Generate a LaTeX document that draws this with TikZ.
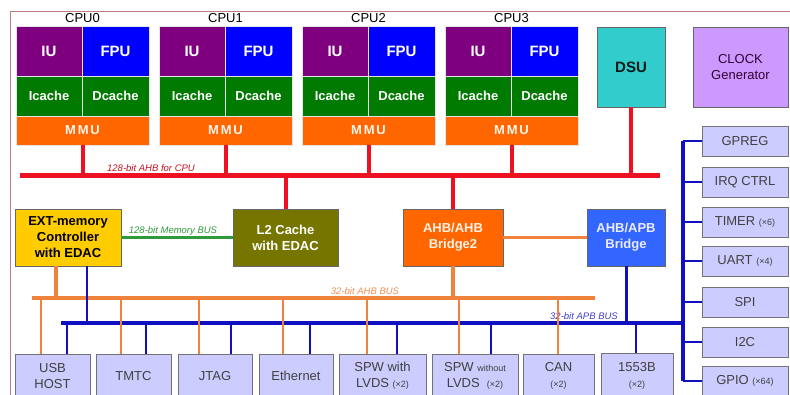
\documentclass[tikz,border=0pt]{standalone}
\usepackage{fontspec}
\setmainfont{Liberation Sans}
\definecolor{iuc}{HTML}{7F007F}
\definecolor{fpuc}{HTML}{0000FF}
\definecolor{cachec}{HTML}{007A00}
\definecolor{mmuc}{HTML}{FF6600}
\definecolor{dsuc}{HTML}{33CCCC}
\definecolor{clkc}{HTML}{CC99FF}
\definecolor{prc}{HTML}{CCCCFF}
\definecolor{extc}{HTML}{FFCC00}
\definecolor{l2c}{HTML}{757500}
\definecolor{apbc}{HTML}{3366FF}
\definecolor{redbus}{HTML}{EE1122}
\definecolor{orbus}{HTML}{F0823C}
\definecolor{blbus}{HTML}{1010C0}
\definecolor{grbus}{HTML}{2E9A3A}
\definecolor{bordc}{HTML}{B88080}
\begin{document}
\begin{tikzpicture}[x=1pt,y=-1pt,
  cell/.style={draw=white!80!gray, line width=0.6pt, inner sep=0pt, text=white},
  iubox/.style={cell, fill=iuc, minimum width=66pt, minimum height=50pt, font=\bfseries\fontsize{15}{15}\selectfont},
  fpubox/.style={cell, fill=fpuc, minimum width=67pt, minimum height=50pt, font=\bfseries\fontsize{15}{15}\selectfont},
  cachebox/.style={cell, fill=cachec, minimum height=40pt, font=\bfseries\fontsize{13}{13}\selectfont},
  mmubox/.style={cell, fill=mmuc, minimum width=133pt, minimum height=29pt, text=white!92!orange, font=\bfseries\fontsize{13}{13}\selectfont},
  blk/.style={draw=black!60, line width=0.8pt, inner sep=1pt, align=center, font=\bfseries\fontsize{13}{16}\selectfont},
  prph/.style={draw=black!55, line width=0.8pt, fill=prc, inner sep=1pt, align=center, text=black!75, font=\fontsize{13}{16}\selectfont},
  redl/.style={draw=redbus, line width=5pt},
  reds/.style={draw=redbus, line width=4pt},
  orl/.style={draw=orbus, line width=3.5pt},
  ors/.style={draw=orbus, line width=2pt},
  bll/.style={draw=blbus, line width=3.3pt},
  bls/.style={draw=blbus, line width=2pt},
  buslbl/.style={font=\itshape\fontsize{9.5}{9.5}\selectfont, inner sep=0pt}
]
\useasboundingbox (0,0) rectangle (790,394);
% frame
\draw[bordc, line width=1pt] (10,396) -- (10,11) -- (792,11);

% CPUs
\foreach \i in {0,1,2,3} {
  \pgfmathsetmacro\xo{16+143*\i}
  \node[font=\fontsize{13}{13}\selectfont] (cpulbl\i) at (\xo+66.5,18) {CPU\i};
  \node[iubox] (iu\i) at (\xo+33,51) {IU};
  \node[fpubox] (fpu\i) at (\xo+99.5,51) {FPU};
  \node[cachebox, minimum width=66pt] (ic\i) at (\xo+33,96) {Icache};
  \node[cachebox, minimum width=67pt] (dc\i) at (\xo+99.5,96) {Dcache};
  \node[mmubox] (mmu\i) at (\xo+66.5,130.5) {M\hspace{1.8pt}M\hspace{1.8pt}U};
}
\node[blk, fill=dsuc, minimum width=68pt, minimum height=80pt, text=black!80!teal, font=\bfseries\fontsize{15}{15}\selectfont] (dsu) at (631,67) {DSU};
\node[blk, fill=clkc, minimum width=95pt, minimum height=80pt, text=black!60!violet, font=\fontsize{13}{16}\selectfont] (clk) at (740.5,67) {CLOCK\\Generator};

% CPU AHB bus
\coordinate (cbL) at (20,175);
\coordinate (cbR) at (660,175);
\draw[redl] (cbL) -- (cbR);
\node[buslbl, text=redbus!85!black] (cblbl) at (151,168) {128-bit AHB for CPU};
\foreach \i in {0,1,2,3} {
  \draw[reds] (mmu\i.south) -- (mmu\i.south |- cbL);
}
\draw[reds] (dsu.south) -- (dsu.south |- cbL);

% middle blocks
\node[blk, fill=extc, minimum width=106pt, minimum height=57pt, text=black] (ext) at (68,237.5) {EXT-memory\\Controller\\with EDAC};
\node[blk, fill=l2c, minimum width=105pt, minimum height=57pt, text=white] (l2) at (285.5,237.5) {L2 Cache\\with EDAC};
\node[blk, fill=mmuc, minimum width=100pt, minimum height=57pt, text=white!90!orange] (ahb2) at (453,237.5) {AHB/AHB\\Bridge2};
\node[blk, fill=apbc, minimum width=78pt, minimum height=57pt, text=white!92!blue] (apb) at (626,237.5) {AHB/APB\\Bridge};

\draw[reds] (l2.north) -- (l2.north |- cbL);
\draw[reds] (ahb2.north) -- (ahb2.north |- cbL);
\draw[draw=grbus, line width=3pt] (ext.east) -- (l2.west);
\node[buslbl, text=grbus] (mblbl) at (173,231) {128-bit Memory BUS};
\draw[draw=orbus, line width=3pt] (ahb2.east) -- (apb.west);

% 32-bit AHB bus
\coordinate (abL) at (32,298);
\coordinate (abR) at (595,298);
\draw[orl] (abL) -- (abR);
\node[buslbl, text=orbus!90!white] (ablbl) at (365,291) {32-bit AHB BUS};
% 32-bit APB bus
\coordinate (pbL) at (61,323);
\coordinate (pbR) at (683,323);
\draw[bll] (pbL) -- (pbR);
\node[buslbl, text=blbus!80!white] (pblbl) at (584,316) {32-bit APB BUS};

\coordinate (exo) at (56,298);
\coordinate (exb) at (87,323);
\draw[orl] (ext.south -| exo) -- (exo);
\draw[bls] (ext.south -| exb) -- (exb);
\draw[orl] (ahb2.south) -- (ahb2.south |- abL);
\draw[draw=blbus, line width=3pt] (apb.south) -- (apb.south |- pbL);

% right peripherals
\node[prph, minimum width=86pt, minimum height=30pt] (gpreg) at (745,141) {GPREG};
\node[prph, minimum width=86pt, minimum height=30pt] (irq) at (745,182) {IRQ CTRL};
\node[prph, minimum width=86pt, minimum height=30pt] (timer) at (745,222) {TIMER {\fontsize{9}{9}\selectfont(×6)}};
\node[prph, minimum width=86pt, minimum height=30pt] (uart) at (745,261) {UART {\fontsize{9}{9}\selectfont(×4)}};
\node[prph, minimum width=86pt, minimum height=30pt] (spi) at (745,302) {SPI};
\node[prph, minimum width=86pt, minimum height=30pt] (i2c) at (745,342) {I2C};
\node[prph, minimum width=86pt, minimum height=30pt] (gpio) at (745,381) {GPIO {\fontsize{9}{9}\selectfont(×64)}};
\coordinate (vb) at (683,300);
\draw[bll] (gpreg.west -| vb) -- (gpio.west -| vb);
\foreach \p in {gpreg,irq,timer,uart,spi,i2c,gpio} {
  \draw[draw=blbus, line width=2.5pt] (\p.west) -- (\p.west -| vb);
}

% bottom peripherals
\node[prph, minimum width=75pt, minimum height=44pt] (usb) at (52.5,376) {USB\\HOST};
\node[prph, minimum width=75pt, minimum height=44pt] (tmtc) at (133.5,376) {TMTC};
\node[prph, minimum width=74pt, minimum height=44pt] (jtag) at (215,376) {JTAG};
\node[prph, minimum width=74pt, minimum height=44pt] (eth) at (296,376) {Ethernet};
\node[prph, minimum width=87pt, minimum height=44pt] (spw1) at (382.5,376) {SPW with\\LVDS {\fontsize{9}{9}\selectfont(×2)}};
\node[prph, minimum width=86pt, minimum height=44pt] (spw2) at (475,376) {SPW {\fontsize{9}{9}\selectfont without}\\LVDS~ {\fontsize{9}{9}\selectfont(×2)}};
\node[prph, minimum width=71pt, minimum height=44pt] (can) at (558.5,376) {CAN\\{\fontsize{9}{9}\selectfont(×2)}};
\node[prph, minimum width=72pt, minimum height=46pt] (mil) at (637,376) {1553B\\{\fontsize{9}{9}\selectfont(×2)}};

\foreach \n/\x in {usb/41,tmtc/121,jtag/199,eth/283,spw1/367,spw2/459,can/558} {
  \coordinate (o\n) at (\x,298);
  \draw[ors] (o\n) -- (o\n |- \n.north);
}
\foreach \n/\x in {usb/67,tmtc/146,jtag/231,eth/310,spw1/397,spw2/491,mil/636} {
  \coordinate (b\n) at (\x,323);
  \draw[bls] (b\n) -- (b\n |- \n.north);
}
\end{tikzpicture}
\end{document}
